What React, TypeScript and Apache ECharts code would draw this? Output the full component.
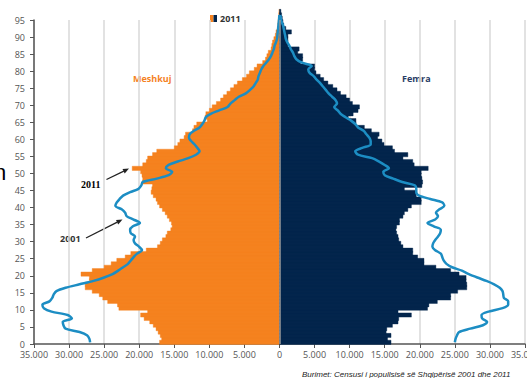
import React, { useEffect, useRef } from "react";
import * as echarts from "echarts";

// Population by single year of age (index = age), values in thousands
const male2011 = [
  17.1, 16.8, 17.0, 17.3, 17.6, 18.0, 18.5, 19.3, 19.8, 18.8,
  22.9, 23.1, 24.5, 25.2, 25.7, 26.7, 27.7, 27.7, 27.1, 27.1,
  28.3, 26.7, 25.0, 24.0, 23.2, 22.0, 21.2, 19.0, 17.4, 17.0,
  16.7, 16.2, 16.0, 15.5, 15.3, 15.4, 15.7, 16.0, 16.3, 16.7,
  17.1, 17.4, 17.6, 18.0, 18.3, 18.2, 18.1, 19.5, 19.5, 19.6,
  19.8, 21.0, 19.5, 19.0, 18.8, 18.1, 17.5, 15.0, 14.5, 14.2,
  13.6, 13.4, 12.4, 12.2, 11.8, 10.3, 10.6, 10.5, 10.0, 9.6,
  9.0, 8.4, 8.0, 7.5, 7.0, 6.5, 6.0, 5.3, 4.7, 4.3,
  3.6, 3.2, 2.4, 2.0, 1.8, 1.6, 1.2, 1.1, 1.0, 0.8,
  0.6, 0.5, 0.3, 0.25, 0.2, 0.15, 0.1, 0.08,
];

const female2011 = [
  15.9, 15.4, 15.9, 15.2, 15.3, 16.1, 16.9, 17.0, 18.8, 16.9,
  21.1, 21.3, 22.5, 24.4, 24.4, 25.4, 26.7, 26.7, 26.6, 26.6,
  25.6, 24.4, 22.3, 20.6, 20.6, 19.7, 19.0, 19.0, 17.6, 17.3,
  17.0, 16.9, 16.7, 16.6, 16.7, 17.1, 17.1, 17.6, 17.8, 18.3,
  18.8, 20.2, 20.2, 19.5, 19.5, 17.8, 20.3, 20.4, 20.3, 20.2,
  20.2, 21.2, 19.2, 19.0, 17.6, 18.3, 16.4, 16.1, 14.9, 14.6,
  14.0, 14.2, 13.1, 12.1, 10.9, 10.9, 9.8, 10.5, 11.2, 11.4,
  10.4, 10.0, 9.5, 8.7, 8.2, 7.6, 6.9, 6.3, 5.8, 5.2,
  5.0, 5.0, 3.0, 3.3, 3.3, 2.6, 2.8, 1.2, 1.2, 1.2,
  1.2, 1.7, 0.9, 0.6, 0.5, 0.4, 0.3, 0.2,
];

const male2001 = [
  27.0, 27.1, 27.4, 28.5, 30.5, 30.8, 30.9, 29.6, 30.2, 32.5,
  33.6, 33.8, 32.8, 32.4, 32.2, 31.8, 30.5, 28.5, 26.5, 25.0,
  23.8, 23.0, 22.3, 21.6, 21.2, 20.8, 20.3, 19.6, 20.0, 20.6,
  20.8, 20.6, 21.2, 21.3, 20.9, 19.9, 20.8, 21.8, 22.0, 22.5,
  23.4, 23.2, 22.8, 22.3, 21.3, 20.1, 19.7, 19.5, 17.5, 15.8,
  15.3, 16.2, 15.8, 14.5, 13.0, 11.9, 11.4, 11.7, 12.1, 12.6,
  12.9, 12.8, 12.2, 11.4, 11.0, 10.7, 10.5, 9.8, 8.6, 7.4,
  7.0, 6.4, 5.8, 4.8, 4.2, 3.7, 3.4, 3.1, 3.0, 2.8,
  2.6, 2.3, 1.9, 1.5, 1.2, 1.0, 0.8, 0.7, 0.5, 0.35,
  0.3, 0.25, 0.2, 0.15, 0.1, 0.05, 0.02,
];

const female2001 = [
  25.0, 25.1, 25.3, 25.6, 27.2, 29.0, 29.6, 28.9, 28.8, 29.8,
  31.8, 32.6, 32.6, 32.0, 31.9, 31.8, 31.4, 30.6, 29.5, 28.2,
  27.0, 26.0, 24.6, 23.8, 23.4, 23.2, 23.0, 22.2, 21.8, 21.9,
  22.2, 22.6, 22.9, 23.0, 22.0, 21.1, 22.2, 22.6, 22.3, 22.8,
  23.5, 23.2, 21.5, 19.9, 19.5, 19.5, 19.3, 17.5, 16.2, 15.0,
  14.8, 15.6, 15.0, 14.2, 13.2, 11.2, 10.8, 11.8, 13.0, 13.0,
  12.8, 12.4, 12.0, 11.2, 10.8, 10.2, 9.4, 8.7, 8.3, 7.8,
  8.2, 8.0, 7.5, 7.0, 6.6, 6.2, 5.8, 5.3, 4.9, 4.3,
  4.1, 4.6, 3.2, 2.4, 2.1, 1.9, 1.6, 1.4, 1.1, 0.9,
  0.8, 0.7, 0.6, 0.5, 0.3, 0.2, 0.1,
];

const ORANGE = "#F5821F";
const NAVY = "#03254C";
const LINE = "#1C8DC3";

const fmt = (v: number) => (v === 0 ? "0" : Math.abs(v) / 1000 + ".000");

export default function App() {
  const ref = useRef<HTMLDivElement>(null);
  useEffect(() => {
    const chart = echarts.init(ref.current!, null, { renderer: "svg" });

    const barItem = (color: string) => (params: any, api: any) => {
      const v = api.value(0);
      const age = api.value(1);
      const p0 = api.coord([0, age]);
      const p1 = api.coord([v, age + 1]);
      return {
        type: "rect",
        shape: {
          x: Math.min(p0[0], p1[0]),
          y: p1[1] - 0.4,
          width: Math.abs(p1[0] - p0[0]),
          height: p0[1] - p1[1] + 0.8,
        },
        style: { fill: color, stroke: color, lineWidth: 0.4 },
      };
    };

    const option: any = {
      animation: false,
      grid: { left: 34, right: 2, top: 20, bottom: 34, containLabel: false, outerBoundsMode: "none" },
      xAxis: {
        type: "value",
        min: -35000,
        max: 35000,
        interval: 5000,
        axisLine: { show: true, onZero: false, lineStyle: { color: "#555", width: 1.5 } },
        axisTick: { show: true, length: 4, lineStyle: { color: "#555", width: 1 } },
        axisLabel: {
          formatter: fmt,
          color: "#555",
          fontSize: 9,
          fontFamily: "Open Sans",
          margin: 6,
          showMinLabel: true,
          showMaxLabel: true,
        },
        splitLine: { show: true, lineStyle: { color: "#d9d9d9", width: 1.5 } },
      },
      yAxis: {
        type: "value",
        min: 0,
        max: 95,
        interval: 5,
        axisLine: { show: true, onZero: false, lineStyle: { color: "#555", width: 1.5 } },
        axisTick: { show: true, length: 4, lineStyle: { color: "#555", width: 1 } },
        axisLabel: { color: "#555", fontSize: 9, fontFamily: "Open Sans", margin: 9 },
        splitLine: { show: false },
      },
      series: [
        {
          type: "custom",
          name: "Meshkuj 2011",
          renderItem: barItem(ORANGE),
          clip: false,
          encode: { x: 0, y: 1 },
          data: male2011.map((v, i) => [-v * 1000, i]),
          z: 2,
        },
        {
          type: "custom",
          name: "Femra 2011",
          renderItem: barItem(NAVY),
          clip: false,
          encode: { x: 0, y: 1 },
          data: female2011.map((v, i) => [v * 1000, i]),
          z: 2,
        },
        {
          type: "line",
          name: "Meshkuj 2001",
          data: male2001.map((v, i) => [-v * 1000, i + 0.5]),
          smooth: 0.3,
          symbol: "none",
          clip: false,
          lineStyle: { color: LINE, width: 2.5 },
          z: 4,
          markLine: {
            silent: true,
            symbol: "none",
            label: { show: false },
            lineStyle: { color: "#9a9a9a", width: 1.5, type: "solid" },
            data: [{ xAxis: 0 }],
          },
        },
        {
          type: "line",
          name: "Femra 2001",
          data: female2001.map((v, i) => [v * 1000, i + 0.5]),
          smooth: 0.3,
          symbol: "none",
          clip: false,
          lineStyle: { color: LINE, width: 2.5 },
          z: 4,
        },
      ],
      graphic: [
        { type: "rect", shape: { x: 210, y: 15, width: 3.5, height: 7 }, style: { fill: ORANGE } },
        { type: "rect", shape: { x: 213.5, y: 15, width: 3.5, height: 7 }, style: { fill: NAVY } },
        {
          type: "text",
          x: 220,
          y: 18.5,
          style: { text: "2011", fill: "#333", font: "bold 9px 'Open Sans'", verticalAlign: "middle" },
        },
        {
          type: "text",
          x: 133,
          y: 78,
          style: { text: "Meshkuj", fill: ORANGE, font: "bold 9px 'Open Sans'", verticalAlign: "middle" },
        },
        {
          type: "text",
          x: 402,
          y: 78,
          style: { text: "Femra", fill: "#2a3d66", font: "bold 9px 'Open Sans'", verticalAlign: "middle" },
        },
        {
          type: "text",
          x: 81,
          y: 184,
          style: { text: "2011", fill: "#000", font: "bold 10px 'Liberation Serif'", verticalAlign: "middle" },
        },
        {
          type: "line",
          shape: { x1: 106.5, y1: 179.5, x2: 123.8, y2: 171.1 },
          style: { stroke: "#222", lineWidth: 1.3 },
        },
        {
          type: "polygon",
          shape: { points: [[129, 168.5], [124.7, 173.4], [122.5, 169.0]] },
          style: { fill: "#222" },
        },
        {
          type: "text",
          x: 60,
          y: 238,
          style: { text: "2001", fill: "#333", font: "bold 9px 'Open Sans'", verticalAlign: "middle" },
        },
        {
          type: "line",
          shape: { x1: 86, y1: 238, x2: 117.3, y2: 222.1 },
          style: { stroke: "#222", lineWidth: 1.3 },
        },
        {
          type: "polygon",
          shape: { points: [[122.5, 219.5], [118.2, 224.4], [116.0, 220.0]] },
          style: { fill: "#222" },
        },
        {
          type: "text",
          x: -6,
          y: 172,
          style: { text: "n", fill: "#000", font: "22px 'Liberation Sans'", verticalAlign: "middle" },
        },
        {
          type: "text",
          x: 302,
          y: 374,
          style: {
            text: "Burimet: Censusi i popullsisë së Shqipërisë 2001 dhe 2011",
            fill: "#222",
            font: "italic 8px 'Liberation Sans'",
            verticalAlign: "middle",
          },
        },
      ],
    };

    chart.setOption(option);
    return () => chart.dispose();
  }, []);

  return (
    <div
      ref={ref}
      style={{ position: "absolute", left: 0, top: 0, width: 527, height: 378 }}
    />
  );
}
